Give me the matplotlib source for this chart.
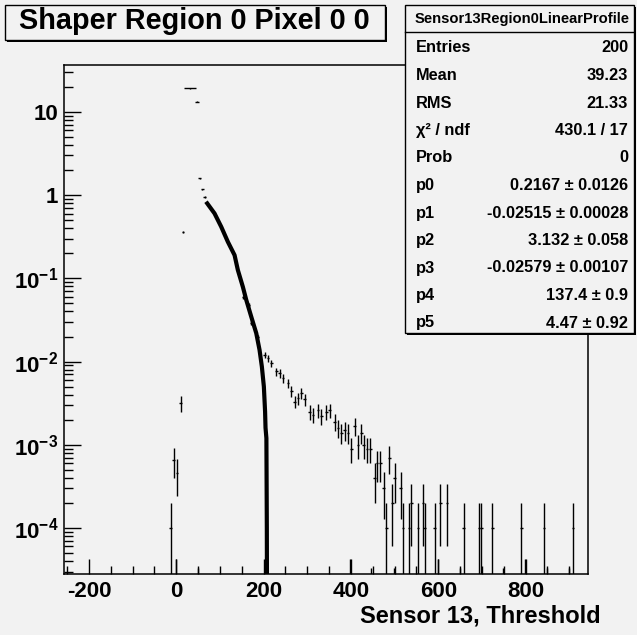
import numpy as np
import matplotlib
matplotlib.use('Agg')
import matplotlib.pyplot as plt
from matplotlib.patches import Rectangle
from matplotlib.lines import Line2D
from matplotlib.ticker import FixedLocator, FixedFormatter, MultipleLocator, LogLocator, NullFormatter

plt.rcParams['font.family'] = ['Liberation Sans', 'DejaVu Sans']
plt.rcParams['font.weight'] = 'bold'
plt.rcParams['mathtext.fontset'] = 'custom'
plt.rcParams['mathtext.rm'] = 'Liberation Sans:bold'
plt.rcParams['mathtext.bf'] = 'Liberation Sans:bold'
plt.rcParams['mathtext.default'] = 'bf'
plt.rcParams['axes.unicode_minus'] = False

# ---- data ----
# points around the pedestal / first bins
peak_x = [-13.0, -6.2, 1.4, 9.9, 15.1, 31.4, 47.0, 53.4, 59.6, 64.8]
peak_y = [1.0e-4, 6.6e-4, 4.6e-4, 3.2e-3, 0.356, 19.2, 13.3, 1.59, 1.17, 0.95]
peak_err = [0.999e-4, 2.6e-4, 2.2e-4, 7e-4, 0.01, 0.1, 0.1, 0.03, 0.02, 0.02]
peak_halfwidth = [3, 3, 3, 3, 3, 14.5, 5, 3, 3, 3]

# points of the main slope (mostly under the fit line)
main_x = [152.6, 165.6, 171.8, 187.0]
main_y = [0.059, 0.048, 0.029, 0.020]
main_err = [0.003, 0.0025, 0.0015, 0.001]

# tail
tail_x = [202.3, 209.9, 217.6, 229.1, 236.7, 244.2, 255.7, 263.5, 271.0, 278.6,
          286.4, 293.9, 305.4, 313.0, 324.4, 332.2, 343.6, 351.2, 362.7, 370.2,
          378.0, 385.6, 393.1, 400.9, 408.5, 416.0, 423.8, 429.1, 436.7, 444.4,
          454.3, 459.6, 467.4, 474.9, 481.1, 488.2, 494.8, 500.1, 513.9, 519.1,
          532.9, 538.4, 553.5, 565.0, 568.8, 591.7, 604.8, 619.9, 658.2, 693.7,
          698.7, 723.9, 790.4, 842.2, 908.6]
tail_y = [0.0120, 0.0110, 0.0096, 0.0076, 0.0072, 0.0063, 0.0055, 0.0044, 0.0033, 0.0036,
          0.0042, 0.0035, 0.0025, 0.0023, 0.0026, 0.0022, 0.0025, 0.0026, 0.0019, 0.0016,
          0.0014, 0.0015, 0.0014, 0.0009, 0.0017, 0.0010, 0.0014, 0.0010, 0.0009, 0.0009,
          0.0004, 0.0006, 0.0006, 0.0003, 0.0001, 0.0007, 0.0002, 0.0004, 0.0003, 0.0001,
          0.0001, 0.0002, 0.0001, 0.0002, 0.0001, 0.0001, 0.0002, 0.0002, 0.0001, 0.0001,
          0.0001, 0.0001, 0.0001, 0.0001, 0.0001]
tail_err = [0.0011, 0.00105, 0.00098, 0.00087, 0.00085, 0.00079, 0.00074, 0.00066, 0.00057, 0.0006,
            0.00065, 0.00059, 0.0005, 0.00048, 0.00051, 0.00047, 0.0005, 0.00051, 0.00044, 0.0004,
            0.00037, 0.00039, 0.00037, 0.0003, 0.00041, 0.00032, 0.00037, 0.00032, 0.0003, 0.0003,
            0.0002, 0.00024, 0.00024, 0.00017, 0.0000999, 0.00026, 0.00014, 0.0002, 0.00017, 0.0000999,
            0.0000999, 0.00014, 0.0000999, 0.00014, 0.0000999, 0.0000999, 0.00014, 0.00014, 0.0000999, 0.0000999,
            0.0000999, 0.0000999, 0.0000999, 0.0000999, 0.0000999]

# bins below the plotted range, only the top of the error bar shows
low_x = [0.0, 49.5, 397.0, 447.0, 498.0, 598.6, 649.0, 747.8, 798.0, 848.6, 899.0]
low_top = [4.2e-5, 3.3e-5, 4.2e-5, 3.3e-5, 3.3e-5, 4.2e-5, 3.3e-5, 3.3e-5, 4.2e-5, 3.3e-5, 3.3e-5]

# fit function
fit_x = [71.0, 87.7, 103.1, 118.2, 133.6, 141.1, 152.6, 160.4, 171.8, 183.3,
         190.8, 196.1, 200.7, 203.5, 204.5, 206.5, 207.5, 207.8]
fit_y = [0.795, 0.603, 0.416, 0.275, 0.19, 0.126, 0.079, 0.055, 0.0346, 0.0219,
         0.0138, 0.0087, 0.0050, 0.0025, 0.0016, 0.0012, 0.0001, 2e-5]

stat_labels = ['Entries', 'Mean', 'RMS', 'χ² / ndf', 'Prob', 'p0', 'p1', 'p2', 'p3', 'p4', 'p5']
stat_values = ['200', '39.23', '21.33', '430.1 / 17', '0',
               '0.2167 ± 0.0126', '-0.02515 ± 0.00028', '3.132 ± 0.058',
               '-0.02579 ± 0.00107', '137.4 ± 0.9', '4.47 ± 0.92']

bg = '#f2f2f2'
W, H = 637, 635

fig = plt.figure(figsize=(W / 100, H / 100), dpi=100, facecolor=bg)
ax = fig.add_axes([64 / W, 1 - 574 / H, (588 - 64) / W, (574 - 65) / H], facecolor=bg)

ax.set_yscale('log')
ax.set_xlim(-257, 943)
ax.set_ylim(2.8e-5, 36.6)

eb = dict(fmt='none', ecolor='black', elinewidth=1.0, capsize=0)
ax.errorbar(tail_x, tail_y, yerr=tail_err, xerr=3, **eb)
ax.errorbar(main_x, main_y, yerr=main_err, xerr=3, **eb)
ax.errorbar(peak_x, peak_y, yerr=peak_err, xerr=peak_halfwidth, **eb)
ax.vlines(low_x, 1e-6, low_top, color='black', lw=1.0)
ax.plot(fit_x, fit_y, color='black', lw=3.0, solid_joinstyle='round')

# axes look like ROOT
for s in ax.spines.values():
    s.set_linewidth(1.1)
ax.yaxis.set_major_locator(FixedLocator([1e-4, 1e-3, 1e-2, 1e-1, 1, 10]))
ax.yaxis.set_major_formatter(FixedFormatter([r'$10^{-4}$', r'$10^{-3}$', r'$10^{-2}$',
                                             r'$10^{-1}$', '1', '10']))
ax.yaxis.set_minor_locator(LogLocator(base=10, subs=np.arange(2, 10), numticks=20))
ax.yaxis.set_minor_formatter(NullFormatter())
ax.xaxis.set_major_locator(MultipleLocator(200))
ax.xaxis.set_minor_locator(MultipleLocator(50))
ax.tick_params(axis='both', which='both', direction='in', width=1.0, labelsize=16)
ax.tick_params(axis='y', which='major', length=12.5, pad=4)
ax.tick_params(axis='y', which='minor', length=6.5)
ax.tick_params(axis='x', which='major', length=11, pad=5)
ax.tick_params(axis='x', which='minor', length=5.5)
for lab in ax.get_xticklabels() + ax.get_yticklabels():
    lab.set_fontweight('bold')

fig.text(601 / W, 1 - 622 / H, 'Sensor 13, Threshold', ha='right', va='baseline',
         fontsize=17, fontweight='bold')


def px_rect(x0, y0, x1, y1, **kw):
    return Rectangle((x0 / W, 1 - y1 / H), (x1 - x0) / W, (y1 - y0) / H,
                     transform=fig.transFigure, figure=fig, **kw)


# title box
fig.patches.append(px_rect(7, 7, 387, 42, facecolor='black', edgecolor='black', lw=0))
fig.patches.append(px_rect(5, 5, 385, 40, facecolor=bg, edgecolor='black', lw=1.0))
fig.text(194 / W, 1 - 29 / H, 'Shaper Region 0 Pixel 0 0', ha='center', va='baseline',
         fontsize=20.8, fontweight='bold')

# stats box
fig.patches.append(px_rect(407, 7, 636, 335, facecolor='black', edgecolor='black', lw=0, zorder=5))
fig.patches.append(px_rect(405, 5, 634, 333, facecolor=bg, edgecolor='black', lw=1.0, zorder=6))
fig.lines.append(Line2D([405 / W, 634 / W], [1 - 31.5 / H, 1 - 31.5 / H], transform=fig.transFigure,
                        color='black', lw=1.0, zorder=7))
fig.text(522 / W, 1 - 23.5 / H, 'Sensor13Region0LinearProfile', ha='center', va='baseline',
         fontsize=10.6, fontweight='bold', zorder=8)
for i, (lab, val) in enumerate(zip(stat_labels, stat_values)):
    yb = 1 - (52.5 + i * 27.5) / H
    fig.text(416 / W, yb, lab, ha='left', va='baseline', fontsize=11.8, fontweight='bold', zorder=8)
    fig.text(628 / W, yb, val, ha='right', va='baseline', fontsize=11.8, fontweight='bold', zorder=8)

fig.savefig('out.png', dpi=100, facecolor=bg)
